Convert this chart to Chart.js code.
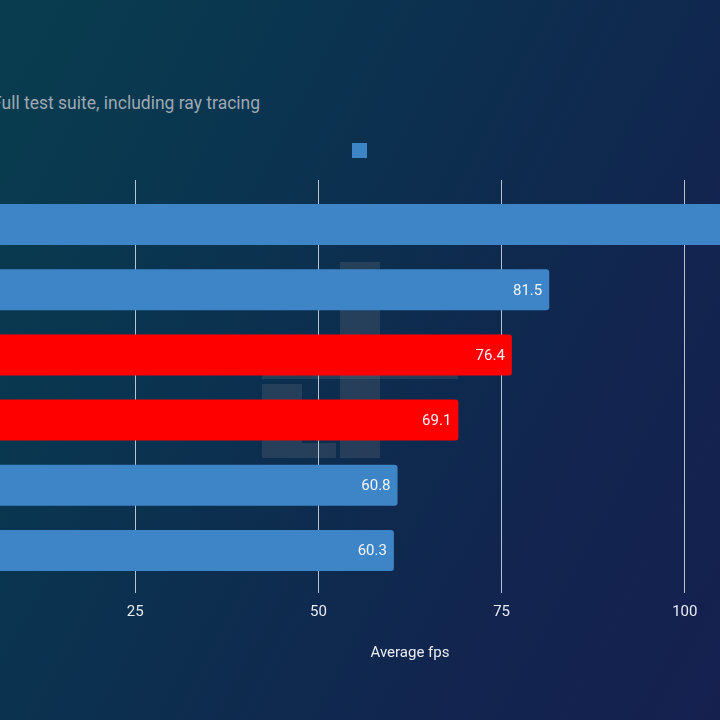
<!DOCTYPE html>
<html>
<head>
<meta charset="utf-8">
<script src="https://cdn.jsdelivr.net/npm/chart.js@4/dist/chart.umd.min.js"></script>
<style>
  html, body { margin: 0; padding: 0; width: 720px; height: 720px; overflow: hidden; }
  body {
    position: relative;
    background: linear-gradient(118deg, #083d4e 0%, #0a3450 30%, #0e2b4e 55%, #12244f 75%, #15204f 100%);
    font-family: Roboto, "Noto Sans", sans-serif;
  }
  #sub { position: absolute; left: -8px; top: 92px; font-size: 17.5px; line-height: 22px; color: #9ea9b5; white-space: nowrap; }
  #wrap { position: absolute; left: -160px; top: 0; width: 1046px; height: 720px; }
  .wm { position: absolute; background: rgba(140,135,135,0.2); }
</style>
</head>
<body>
<div class="wm" style="left:340px;top:262px;width:40px;height:196px"></div>
<div class="wm" style="left:262px;top:384px;width:40px;height:59px"></div>
<div class="wm" style="left:262px;top:443px;width:74px;height:15px"></div>
<div class="wm" style="left:262px;top:368px;width:196px;height:11px"></div>
<div id="sub">Full test suite, including ray tracing</div>
<div id="wrap"><canvas id="chart"></canvas></div>
<script>
// cards, top to bottom (names sit left of the visible crop)
const CARDS = ['Card A', 'Card B', 'Card C', 'Card D', 'Card E', 'Card F'];
const FPS = [114.2, 81.5, 76.4, 69.1, 60.8, 60.3];
const IS_RED = [false, false, true, true, false, false];
const X_TICKS = [0, 25, 50, 75, 100];
const X_MAX = 125;

const BLUE = '#3e85c7', RED = '#ff0000';
const GRID = 'rgba(215,222,230,0.85)';
const TXT = '#e9edf2';

const valueLabels = {
  id: 'valueLabels',
  afterDatasetsDraw(chart){
    const ctx = chart.ctx;
    const meta = chart.getDatasetMeta(0);
    ctx.save();
    ctx.font = '15px Roboto';
    ctx.fillStyle = '#f2f5f9';
    ctx.textAlign = 'right';
    ctx.textBaseline = 'middle';
    meta.data.forEach((bar, i) => {
      ctx.fillText(FPS[i].toFixed(1), bar.x - 7, bar.y + 1);
    });
    ctx.restore();
  }
};

const tickCb = v => X_TICKS.includes(v) ? v : '';

new Chart(document.getElementById('chart'), {
  type: 'bar',
  data: {
    labels: CARDS,
    datasets: [{
      label: '',
      data: FPS,
      backgroundColor: IS_RED.map(r => r ? RED : BLUE),
      borderWidth: 0,
      borderRadius: 3,
      categoryPercentage: 0.9,
      barPercentage: 0.7
    }]
  },
  options: {
    indexAxis: 'y',
    responsive: true,
    maintainAspectRatio: false,
    animation: false,
    layout: { padding: { top: 133, left: 17, right: 18, bottom: 54 } },
    plugins: {
      legend: {
        display: true,
        position: 'top',
        labels: { boxWidth: 15, boxHeight: 15, padding: 10, color: TXT, font: { size: 12, family: 'Roboto' } }
      },
      tooltip: { enabled: false }
    },
    scales: {
      x: {
        position: 'bottom',
        min: 0, max: X_MAX,
        border: { display: false },
        grid: { color: GRID, lineWidth: 1, drawTicks: true, tickLength: 10, tickColor: GRID },
        ticks: { stepSize: 25, includeBounds: false, padding: 10.5, color: TXT, font: { size: 15, family: 'Roboto' }, callback: tickCb },
        title: { display: true, text: 'Average fps', color: TXT, font: { size: 15, family: 'Roboto' }, padding: { top: 12, bottom: 4 } }
      },
      x2: {
        axis: 'x',
        position: 'top',
        min: 0, max: X_MAX,
        border: { display: false },
        grid: { drawOnChartArea: false, drawTicks: true, tickLength: 12, color: GRID, tickColor: GRID },
        ticks: { display: false, stepSize: 25, includeBounds: false },
        afterFit: s => { s.height = 24; }
      },
      y: {
        border: { display: false },
        grid: { display: false },
        ticks: { display: false },
        afterFit: s => { s.width = 95; }
      }
    }
  },
  plugins: [valueLabels]
});
</script>
</body>
</html>
